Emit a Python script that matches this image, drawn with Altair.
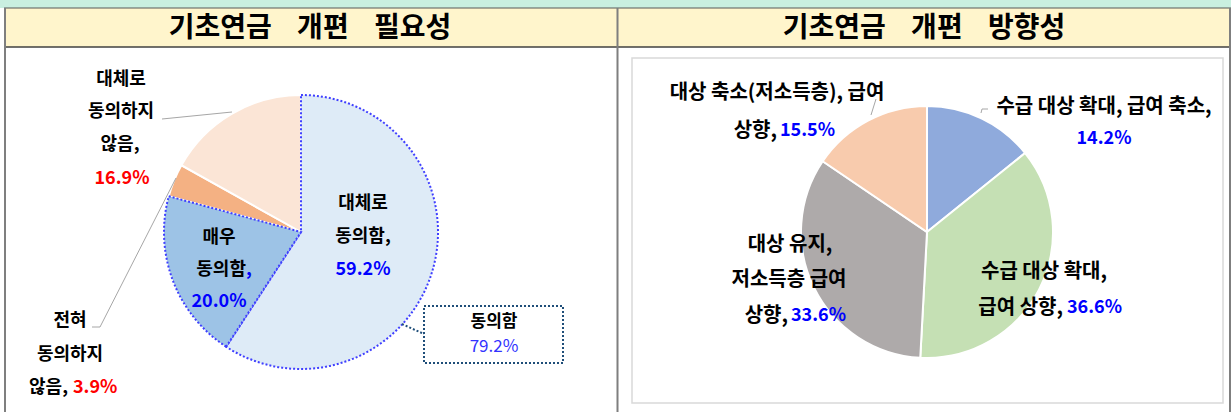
import math
import altair as alt
import pandas as pd

FONT = "Noto Sans CJK KR"

# ---------------- data ----------------
GAP = " \u00a0\u00a0\u00a0"
titles = [GAP.join(["기초연금", "개편", "필요성"]), GAP.join(["기초연금", "개편", "방향성"])]

need_cats = ["대체로 동의함", "매우 동의함", "전혀 동의하지 않음", "대체로 동의하지 않음"]
need_vals = [59.2, 20.0, 3.9, 16.9]
need_groups = ["agree", "agree", "disagree", "disagree"]
need_colors = ["#DEEBF7", "#9DC3E6", "#F4B183", "#FBE5D6"]
agree_label = "동의함"

dir_cats = ["수급 대상 확대, 급여 축소", "수급 대상 확대, 급여 상향",
            "대상 유지, 저소득층 급여 상향", "대상 축소(저소득층), 급여 상향"]
dir_vals = [14.2, 36.6, 33.6, 15.5]
dir_colors = ["#8FAADC", "#C5E0B4", "#AEAAAA", "#F8CBAD"]


def pct(v):
    return f"{v:.1f}%"


layers = []


def rect(x, x2, y, y2, **kw):
    return alt.Chart(pd.DataFrame({"a": [0]})).mark_rect(**kw).encode(
        x=alt.value(x), x2=alt.value(x2), y=alt.value(y), y2=alt.value(y2))


def rule(x, y, x2, y2, **kw):
    return alt.Chart(pd.DataFrame({"a": [0]})).mark_rule(**kw).encode(
        x=alt.value(x), x2=alt.value(x2), y=alt.value(y), y2=alt.value(y2))


def txt(s, x, y, color="#000000", size=18, align="center", weight="bold"):
    return alt.Chart(pd.DataFrame({"t": [s]})).mark_text(
        font=FONT, fontSize=size, fontWeight=weight, color=color,
        align=align, baseline="middle").encode(
        x=alt.value(x), y=alt.value(y), text="t:N")


def pie(cats, vals, colors, groups, cx, cy, r, keep, **kw):
    df = pd.DataFrame({"cat": cats, "value": vals, "color": colors,
                       "idx": list(range(len(cats))), "group": groups})
    total = sum(vals)
    ch = (alt.Chart(df)
          .transform_window(end="sum(value)", sort=[alt.SortField("idx")], frame=[None, 0])
          .transform_calculate(start="datum.end - datum.value")
          .transform_filter(alt.FieldOneOfPredicate(field="group", oneOf=keep))
          .mark_arc(radius=r, **kw)
          .encode(theta=alt.Theta("start:Q", scale=alt.Scale(domain=[0, total], range=[0, 2 * math.pi])),
                  theta2="end:Q",
                  color=alt.Color("color:N", scale=None),
                  x=alt.value(cx), y=alt.value(cy)))
    return ch


# ---------------- frame ----------------
layers.append(rect(0, 1231, 0, 8, color="#C9EFE0"))
layers.append(rect(5, 1230, 8, 47, color="#FFF5CC"))
layers.append(rect(632, 1223, 58, 403, fillOpacity=0, stroke="#D9D9D9", strokeWidth=1.5))
layers.append(rule(4, 8, 1231, 8, color="#595959", strokeWidth=1))
layers.append(rule(4, 47, 1231, 47, color="#404040", strokeWidth=1.5))
layers.append(rule(5, 8, 5, 412, color="#7F7F7F", strokeWidth=2))
layers.append(rule(617.5, 8, 617.5, 412, color="#7F7F7F", strokeWidth=2))
layers.append(rule(1230, 8, 1230, 412, color="#7F7F7F", strokeWidth=2))

layers.append(txt(titles[0], 310, 29, size=28))
layers.append(txt(titles[1], 924, 29, size=28))

# ---------------- left pie ----------------
LCX, LCY, LR = 301, 232, 137
layers.append(pie(need_cats, need_vals, need_colors, need_groups, LCX, LCY, LR, ["disagree"],
                  stroke="white", strokeWidth=2))
layers.append(pie(need_cats, need_vals, need_colors, need_groups, LCX, LCY, LR, ["agree"],
                  stroke="#3F3FFF", strokeWidth=2, strokeDash=[2, 2]))

# leader lines
layers.append(rule(162, 119, 232, 112, color="#A6A6A6", strokeWidth=1))
layers.append(rule(92, 327, 100, 327, color="#A6A6A6", strokeWidth=1))
layers.append(rule(100, 327, 176, 178, color="#A6A6A6", strokeWidth=1))

# callout box
layers.append(rule(402, 324, 424, 334, color="#1F4E79", strokeWidth=2, strokeDash=[2, 2]))
layers.append(rect(424, 563, 306, 363, fill="white", stroke="#1F4E79", strokeWidth=2, strokeDash=[2, 2]))
layers.append(txt(agree_label, 494, 322, size=17))
layers.append(txt(pct(need_vals[0] + need_vals[1]), 494, 347, color="#3333FF", weight="normal", size=17))

# labels: 대체로 동의함
layers.append(txt("대체로", 363, 204))
layers.append(txt("동의함,", 363, 237))
layers.append(txt(pct(need_vals[0]), 363, 270, color="#0000FF"))
# 매우 동의함
layers.append(txt("매우", 219, 238))
layers.append(txt("동의함", 246, 270, align="right"))
layers.append(txt(",", 246, 270, color="#0000FF", align="left"))
layers.append(txt(pct(need_vals[1]), 219, 302, color="#0000FF"))
# 전혀 동의하지 않음
layers.append(txt("전혀", 70, 321))
layers.append(txt("동의하지", 70, 355))
layers.append(txt("않음,", 68, 388, align="right"))
layers.append(txt(pct(need_vals[2]), 73, 388, color="#FF0000", align="left"))
# 대체로 동의하지 않음
layers.append(txt("대체로", 121, 80))
layers.append(txt("동의하지", 121, 112))
layers.append(txt("않음,", 120, 145))
layers.append(txt(pct(need_vals[3]), 122, 179, color="#FF0000"))

# ---------------- right pie ----------------
RCX, RCY, RR = 927, 232, 126
layers.append(pie(dir_cats, dir_vals, dir_colors, ["all"] * 4, RCX, RCY, RR, ["all"],
                  stroke="white", strokeWidth=2))

layers.append(rule(871, 115, 876, 99, color="#A6A6A6", strokeWidth=1))
layers.append(rule(981, 113, 982, 109, color="#A6A6A6", strokeWidth=1))
layers.append(rule(982, 109, 988, 109, color="#A6A6A6", strokeWidth=1))

layers.append(txt("수급 대상 확대, 급여 축소,", 1104, 107, size=20))
layers.append(txt(pct(dir_vals[0]), 1104, 139, color="#0000FF", size=18))

layers.append(txt("수급 대상 확대,", 1044, 272, size=20))
layers.append(txt("급여 상향,", 1063, 308, size=20, align="right"))
layers.append(txt(pct(dir_vals[1]), 1067, 308, color="#0000FF", size=18, align="left"))

layers.append(txt("대상 유지,", 790, 245, size=20))
layers.append(txt("저소득층 급여", 789, 280, size=20))
layers.append(txt("상향,", 788, 316, size=20, align="right"))
layers.append(txt(pct(dir_vals[2]), 791, 316, color="#0000FF", size=18, align="left"))

layers.append(txt("대상 축소(저소득층), 급여", 777, 93, size=20))
layers.append(txt("상향,", 777, 131, size=20, align="right"))
layers.append(txt(pct(dir_vals[3]), 780, 131, color="#0000FF", size=18, align="left"))

chart = (alt.layer(*layers)
         .resolve_scale(theta="independent")
         .properties(width=1231, height=412, padding=0, autosize="none", background="white")
         .configure_view(stroke=None))

chart.save("out.html", embed_options={"renderer": "svg", "actions": False})
